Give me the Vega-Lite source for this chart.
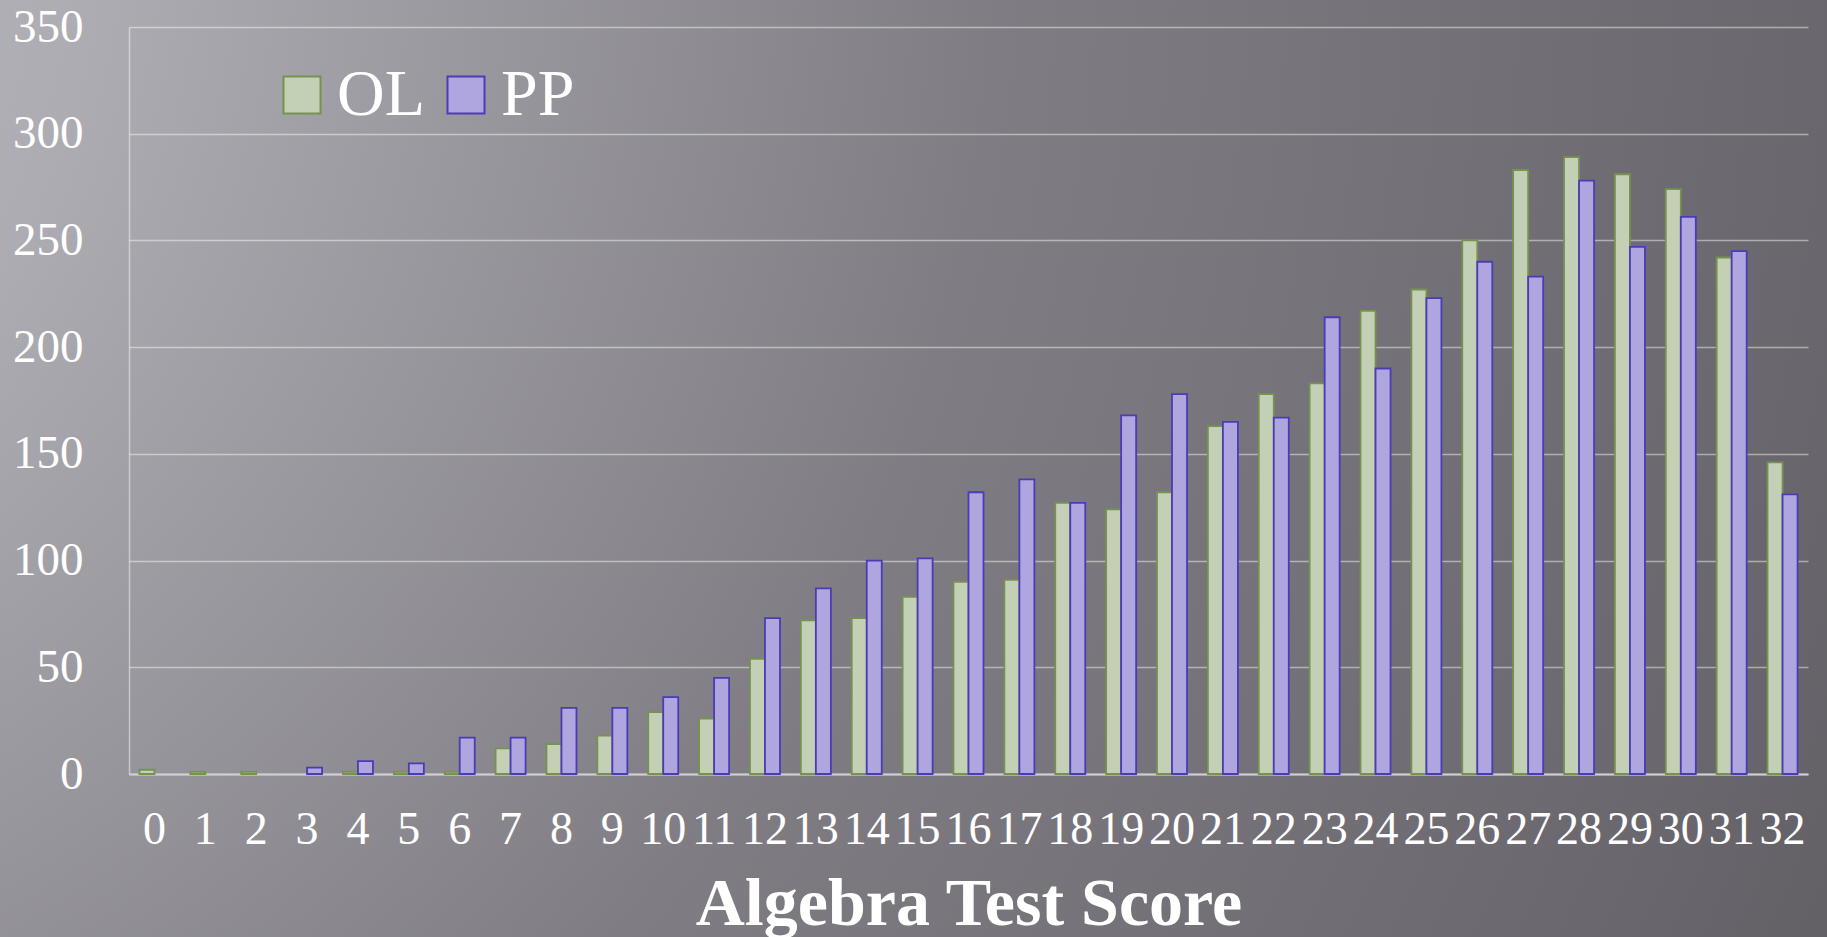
{
  "$schema": "https://vega.github.io/schema/vega-lite/v6.json",
  "width": 1827,
  "height": 937,
  "autosize": {"type": "none"},
  "padding": 0,
  "background": "#7c7a80",
  "data": {
    "values": [
      {"score": 0, "series": "OL", "count": 2}, {"score": 0, "series": "PP", "count": 0},
      {"score": 1, "series": "OL", "count": 1}, {"score": 1, "series": "PP", "count": 0},
      {"score": 2, "series": "OL", "count": 1}, {"score": 2, "series": "PP", "count": 0},
      {"score": 3, "series": "OL", "count": 0}, {"score": 3, "series": "PP", "count": 3},
      {"score": 4, "series": "OL", "count": 1}, {"score": 4, "series": "PP", "count": 6},
      {"score": 5, "series": "OL", "count": 1}, {"score": 5, "series": "PP", "count": 5},
      {"score": 6, "series": "OL", "count": 1}, {"score": 6, "series": "PP", "count": 17},
      {"score": 7, "series": "OL", "count": 12}, {"score": 7, "series": "PP", "count": 17},
      {"score": 8, "series": "OL", "count": 14}, {"score": 8, "series": "PP", "count": 31},
      {"score": 9, "series": "OL", "count": 18}, {"score": 9, "series": "PP", "count": 31},
      {"score": 10, "series": "OL", "count": 29}, {"score": 10, "series": "PP", "count": 36},
      {"score": 11, "series": "OL", "count": 26}, {"score": 11, "series": "PP", "count": 45},
      {"score": 12, "series": "OL", "count": 54}, {"score": 12, "series": "PP", "count": 73},
      {"score": 13, "series": "OL", "count": 72}, {"score": 13, "series": "PP", "count": 87},
      {"score": 14, "series": "OL", "count": 73}, {"score": 14, "series": "PP", "count": 100},
      {"score": 15, "series": "OL", "count": 83}, {"score": 15, "series": "PP", "count": 101},
      {"score": 16, "series": "OL", "count": 90}, {"score": 16, "series": "PP", "count": 132},
      {"score": 17, "series": "OL", "count": 91}, {"score": 17, "series": "PP", "count": 138},
      {"score": 18, "series": "OL", "count": 127}, {"score": 18, "series": "PP", "count": 127},
      {"score": 19, "series": "OL", "count": 124}, {"score": 19, "series": "PP", "count": 168},
      {"score": 20, "series": "OL", "count": 132}, {"score": 20, "series": "PP", "count": 178},
      {"score": 21, "series": "OL", "count": 163}, {"score": 21, "series": "PP", "count": 165},
      {"score": 22, "series": "OL", "count": 178}, {"score": 22, "series": "PP", "count": 167},
      {"score": 23, "series": "OL", "count": 183}, {"score": 23, "series": "PP", "count": 214},
      {"score": 24, "series": "OL", "count": 217}, {"score": 24, "series": "PP", "count": 190},
      {"score": 25, "series": "OL", "count": 227}, {"score": 25, "series": "PP", "count": 223},
      {"score": 26, "series": "OL", "count": 250}, {"score": 26, "series": "PP", "count": 240},
      {"score": 27, "series": "OL", "count": 283}, {"score": 27, "series": "PP", "count": 233},
      {"score": 28, "series": "OL", "count": 289}, {"score": 28, "series": "PP", "count": 278},
      {"score": 29, "series": "OL", "count": 281}, {"score": 29, "series": "PP", "count": 247},
      {"score": 30, "series": "OL", "count": 274}, {"score": 30, "series": "PP", "count": 261},
      {"score": 31, "series": "OL", "count": 242}, {"score": 31, "series": "PP", "count": 245},
      {"score": 32, "series": "OL", "count": 146}, {"score": 32, "series": "PP", "count": 131}
    ]
  },
  "transform": [{"filter": "datum.count > 0"}],
  "mark": {"type": "bar", "strokeWidth": 1.8},
  "encoding": {
    "x": {
      "field": "score",
      "type": "ordinal",
      "scale": {"range": [129, 1808], "paddingInner": 0.41, "paddingOuter": 0.205},
      "axis": {
        "orient": "bottom",
        "offset": -163,
        "labelAngle": 0,
        "labelOverlap": false,
        "labelFlush": false,
        "labelBound": false,
        "labelPadding": 33,
        "labelFontSize": 46,
        "ticks": false,
        "grid": false,
        "domain": true,
        "domainColor": "#d0d0d3",
        "domainWidth": 2,
        "title": "Algebra Test Score",
        "titleFontSize": 68,
        "titleFontWeight": "bold",
        "titleY": 96,
        "titleBaseline": "top"
      }
    },
    "xOffset": {"field": "series", "type": "nominal", "sort": ["OL", "PP"]},
    "y": {
      "field": "count",
      "type": "quantitative",
      "scale": {"domain": [0, 350], "range": [774, 27], "nice": false},
      "axis": {
        "orient": "left",
        "offset": -129,
        "values": [0, 50, 100, 150, 200, 250, 300, 350],
        "grid": true,
        "gridColor": "#ffffff",
        "gridOpacity": 0.45,
        "gridWidth": 1.5,
        "domain": true,
        "domainColor": "#ffffff",
        "domainOpacity": 0.45,
        "domainWidth": 1.5,
        "ticks": false,
        "labelPadding": 46,
        "labelFontSize": 47,
        "title": null
      }
    },
    "fill": {
      "field": "series",
      "type": "nominal",
      "scale": {"domain": ["OL", "PP"], "range": ["#c3d0b5", "#afa5df"]},
      "legend": {
        "orient": "none",
        "legendX": 269,
        "legendY": 62,
        "direction": "horizontal",
        "title": null
      }
    },
    "stroke": {
      "field": "series",
      "type": "nominal",
      "scale": {"domain": ["OL", "PP"], "range": ["#76924f", "#4a3cb6"]},
      "legend": {
        "orient": "none",
        "legendX": 269,
        "legendY": 62,
        "direction": "horizontal",
        "title": null
      }
    }
  },
  "config": {
    "font": "Liberation Serif",
    "view": {
      "stroke": null,
      "fill": {
        "gradient": "radial",
        "x1": -0.3, "y1": 0.2, "r1": 0,
        "x2": -0.3, "y2": 0.2, "r2": 1.6,
        "stops": [
          {"offset": 0, "color": "#c0bec5"},
          {"offset": 0.22, "color": "#aeacb3"},
          {"offset": 0.53, "color": "#7f7d83"},
          {"offset": 0.82, "color": "#69676d"},
          {"offset": 1, "color": "#57555a"}
        ]
      }
    },
    "axis": {
      "labelFont": "Liberation Serif",
      "titleFont": "Liberation Serif",
      "labelColor": "#ffffff",
      "titleColor": "#ffffff"
    },
    "legend": {
      "labelFont": "Liberation Serif",
      "labelFontSize": 66,
      "labelColor": "#ffffff",
      "symbolType": "square",
      "symbolSize": 1369,
      "symbolStrokeWidth": 2,
      "labelOffset": 2,
      "columnPadding": 8,
      "padding": 0
    }
  }
}
